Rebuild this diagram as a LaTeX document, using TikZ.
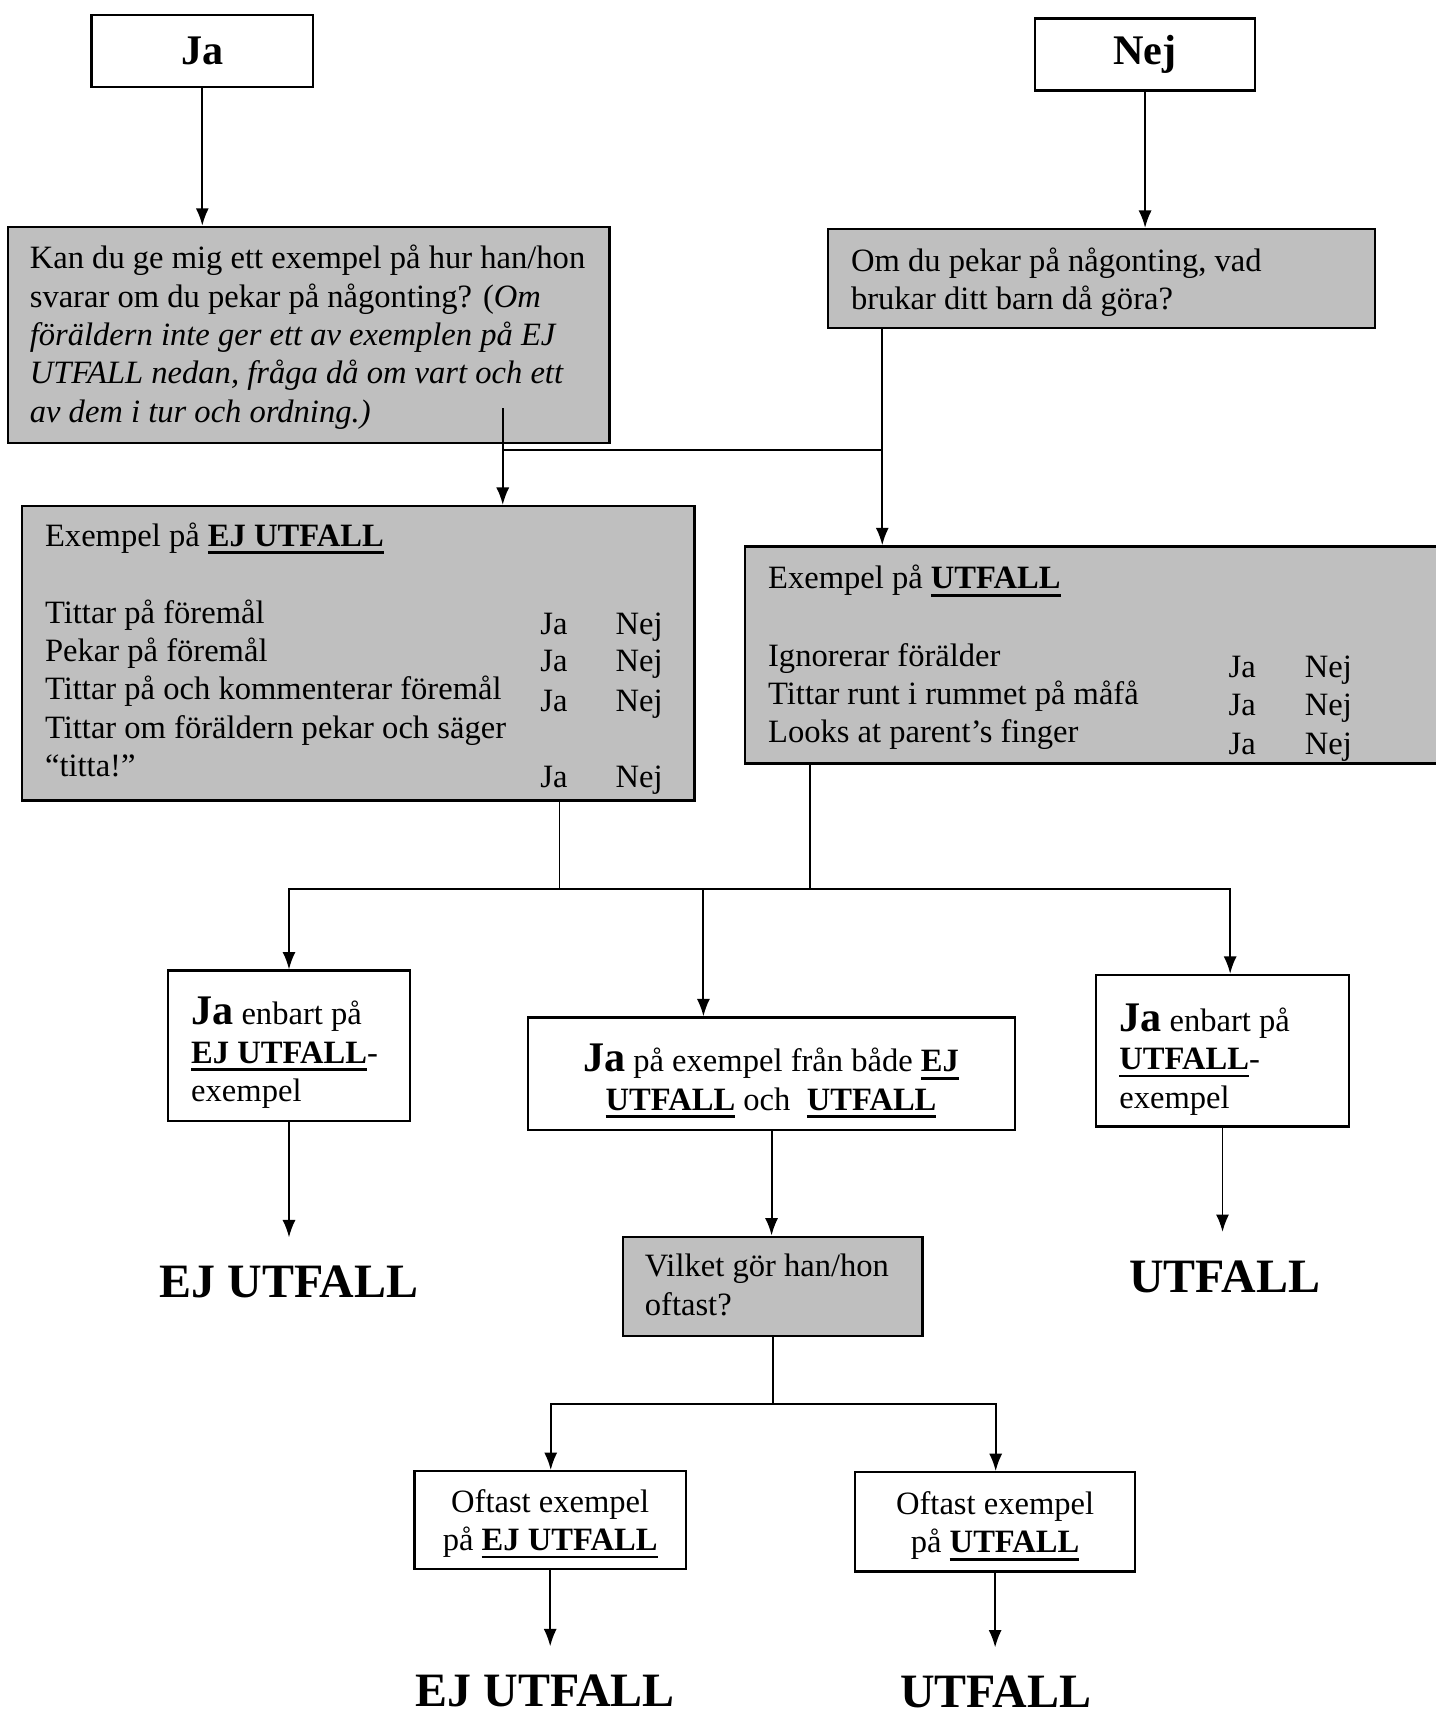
\documentclass[tikz,border=0pt]{standalone}
\usepackage{fontspec}
\setmainfont{Liberation Serif}
\usetikzlibrary{arrows.meta,calc}

\newcommand{\bodyfont}{\fontsize{17}{20}\selectfont}
\newcommand{\jafont}{\fontsize{22}{24}\selectfont\bfseries}
\newcommand{\resultfont}{\fontsize{25}{28}\selectfont\bfseries}
\newcommand{\ulb}[1]{{\setbox0=\hbox{\textbf{#1}}\rlap{\rule[-4pt]{\wd0}{1.4pt}}\box0}}

\begin{document}
\begin{tikzpicture}[x=0.02cm, y=-0.02cm,
    box/.style={draw=black, line width=1.2pt, inner sep=0pt},
    greybox/.style={box, fill=black!25},
    txt/.style={inner sep=0pt, align=left, font=\bodyfont, anchor=base west},
    ctxt/.style={inner sep=0pt, align=center, font=\bodyfont, anchor=base},
    endtxt/.style={inner sep=0pt, text height=1.1cm, text depth=0pt, font=\resultfont, anchor=base},
    line/.style={line width=1pt, line cap=rect},
    arr/.style={line, -{Latex[length=0.32cm, width=0.24cm]}}]

    \useasboundingbox (0,0) rectangle (1316,1568);

    \node[box, minimum width=4.06cm, minimum height=1.32cm, font=\jafont] (ja) at (185.5,47) {Ja};
    \node[box, minimum width=4.04cm, minimum height=1.32cm, font=\jafont] (nej) at (1050,50) {Nej};

    \node[greybox, minimum width=11.04cm, minimum height=3.96cm] (q1) at (283,307) {};
    \node[txt] (q1text) at (27,387) {Kan du ge mig ett exempel på hur han/hon\\
      svarar om du pekar på någonting? (\textit{Om}\\
      \textit{föräldern inte ger ett av exemplen på EJ}\\
      \textit{UTFALL nedan, fråga då om vart och ett}\\
      \textit{av dem i tur och ordning.)}};

    \node[greybox, minimum width=10.04cm, minimum height=1.82cm] (q2) at (1010,255.5) {};
    \node[txt] (q2text) at (780,284) {Om du pekar på någonting, vad\\brukar ditt barn då göra?};

    \node[greybox, minimum width=12.34cm, minimum height=5.4cm] (ejbox) at (328.5,599) {};
    \node[txt] (ejtitle) at (41,501) {Exempel på \ulb{EJ UTFALL}};
    \node[txt] (ejlist) at (41,712) {Tittar på föremål\\Pekar på föremål\\
      Tittar på och kommenterar föremål\\Tittar om föräldern pekar och säger\\“titta!”};
    \foreach \y [count=\i] in {582,616,652,722} {
      \node[ctxt] (ejja\i) at (508,\y) {Ja};
      \node[ctxt] (ejnej\i) at (586,\y) {Nej};
    }

    \node[greybox, minimum width=12.74cm, minimum height=3.98cm] (utbox) at (1001.5,600.5) {};
    \node[txt] (uttitle) at (704,540) {Exempel på \ulb{UTFALL}};
    \node[txt] (utlist) at (704,681) {Ignorerar förälder\\Tittar runt i rummet på måfå\\Looks at parent’s finger};
    \foreach \y [count=\i] in {621,656,692} {
      \node[ctxt] (utja\i) at (1139,\y) {Ja};
      \node[ctxt] (utnej\i) at (1218,\y) {Nej};
    }

    \node[box, minimum width=4.44cm, minimum height=2.76cm] (res1) at (265,959) {};
    \node[txt] (res1text) at (175,1010) {{\jafont Ja} enbart på\\\ulb{EJ UTFALL}-\\exempel};
    \node[box, minimum width=8.94cm, minimum height=2.06cm] (res2) at (707.5,984.5) {};
    \node[ctxt] (res2text) at (707,1018) {{\jafont Ja} på exempel från både \ulb{EJ}\\\ulb{UTFALL} och \ \ulb{UTFALL}};
    \node[box, minimum width=4.64cm, minimum height=2.78cm] (res3) at (1121,963.5) {};
    \node[txt] (res3text) at (1026,1016) {{\jafont Ja} enbart på\\\ulb{UTFALL}-\\exempel};

    \node[endtxt] (end1) at (265,1190) {EJ UTFALL};
    \node[endtxt] (end2) at (1123,1185) {UTFALL};

    \node[greybox, minimum width=5.5cm, minimum height=1.82cm] (q3) at (708.5,1179.5) {};
    \node[txt] (q3text) at (591,1206) {Vilket gör han/hon\\oftast?};

    \node[box, minimum width=4.98cm, minimum height=1.8cm] (often1) at (504.5,1394) {};
    \node[ctxt] (often1text) at (504.5,1422) {Oftast exempel\\på \ulb{EJ UTFALL}};
    \node[box, minimum width=5.14cm, minimum height=1.82cm] (often2) at (912.5,1395.5) {};
    \node[ctxt] (often2text) at (912.5,1424) {Oftast exempel\\på \ulb{UTFALL}};

    \node[endtxt] (end3) at (500,1565) {EJ UTFALL};
    \node[endtxt] (end4) at (913,1566) {UTFALL};

    \draw[arr] (ja.south) -- (ja.south |- q1.north);
    \draw[arr] (nej.south) -- (nej.south |- q2.north);

    \coordinate (q1out) at (461,375);
    \coordinate (q2out) at (809,413);
    \draw[arr] (q1out) -- (q1out |- ejbox.north);
    \draw[line] (q1out |- q2out) -- (q2out);
    \draw[arr] (q2.south -| q2out) -- (q2out |- utbox.north);

    \coordinate (ejout) at (513,815);
    \coordinate (utout) at (743,815);
    \coordinate (split1) at (265,815);
    \coordinate (split2) at (645,815);
    \coordinate (split3) at (1128,815);
    \draw[line] (ejbox.south -| ejout) -- (ejout);
    \draw[line] (utbox.south -| utout) -- (utout);
    \draw[line] (split1) -- (split3);
    \draw[arr] (split1) -- (split1 |- res1.north);
    \draw[arr] (split2) -- (split2 |- res2.north);
    \draw[arr] (split3) -- (split3 |- res3.north);

    \draw[arr] (res1.south) -- (res1.south |- end1.north);
    \draw[arr] (res3.south) -- (res3.south |- end2.north);
    \draw[arr] (res2.south) -- (res2.south |- q3.north);

    \coordinate (split4) at (505,1287);
    \coordinate (split5) at (913,1287);
    \draw[line] (q3.south) -- (q3.south |- split4);
    \draw[line] (split4) -- (split5);
    \draw[arr] (split4) -- (split4 |- often1.north);
    \draw[arr] (split5) -- (split5 |- often2.north);
    \draw[arr] (often1.south) -- (often1.south |- end3.north);
    \draw[arr] (often2.south) -- (often2.south |- end4.north);
\end{tikzpicture}
\end{document}
